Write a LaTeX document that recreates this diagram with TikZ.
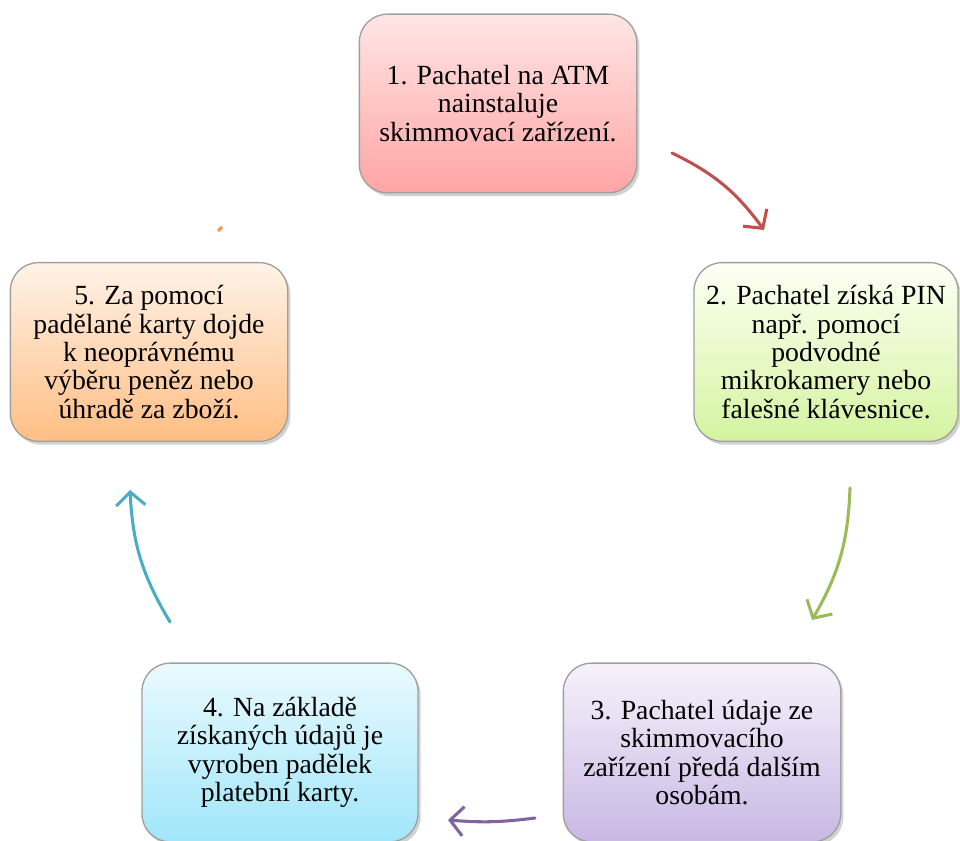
\documentclass[tikz,border=0pt]{standalone}
\usepackage{fontspec}
\setmainfont{Liberation Serif}
\usetikzlibrary{arrows.meta,shadows}

\begin{document}
\begin{tikzpicture}[x=0.75pt, y=0.75pt,
    stepbox/.style={draw=gray!75, line width=1pt, rounded corners=21pt,
        minimum width=208pt, minimum height=134pt, align=center,
        font=\fontsize{20.8}{21.3}\selectfont, inner sep=2pt,
        drop shadow={shadow xshift=2pt, shadow yshift=-2.5pt, fill=black!35, opacity=0.5}},
    cyc/.style={line width=2.3pt, line cap=round,
        -{Straight Barb[length=10pt, width=22pt, line width=2.3pt]}}]
    \useasboundingbox (0,0) rectangle (960,841);
    % boxes
    \node[stepbox, top color=red!10, bottom color=red!36!white!95!pink]
        (s1) at (498,737.5) {1. Pachatel na ATM\\nainstaluje\\skimmovací zařízení.};
    \node[stepbox, minimum width=198pt, top color=green!6!yellow!4, bottom color={rgb,255:red,212;green,244;blue,160}]
        (s2) at (826,489) {2. Pachatel získá PIN\\např. pomocí\\podvodné\\mikrokamery nebo\\falešné klávesnice.};
    \node[stepbox, top color={rgb,255:red,246;green,242;blue,251}, bottom color={rgb,255:red,201;green,184;blue,228}]
        (s3) at (702,88.5) {3. Pachatel údaje ze\\skimmovacího\\zařízení předá dalším\\osobám.};
    \node[stepbox, minimum width=207pt, top color={rgb,255:red,234;green,250;blue,255}, bottom color={rgb,255:red,160;green,230;blue,250}]
        (s4) at (280,88.5) {4. Na základě\\získaných údajů je\\vyroben padělek\\platební karty.};
    \node[stepbox, top color={rgb,255:red,255;green,243;blue,232}, bottom color={rgb,255:red,255;green,190;blue,132}]
        (s5) at (149,489) {5. Za pomocí\\padělané karty dojde\\k neoprávnému\\výběru peněz nebo\\úhradě za zboží.};
    % arrow ends
    \coordinate (a1) at (672,688);
    \coordinate (b1) at (764,611);
    \coordinate (a2) at (850,353);
    \coordinate (b2) at (812,221);
    \coordinate (a3) at (535,23);
    \coordinate (b3) at (448,21);
    \coordinate (a4) at (170,219);
    \coordinate (b4) at (130,351);
    \coordinate (a5) at (218,610);
    \coordinate (b5) at (222,614);
    % arrows
    \draw[cyc, color={rgb,255:red,192;green,80;blue,77}] (a1) to[bend left=14] (b1);
    \draw[cyc, color={rgb,255:red,155;green,187;blue,89}] (a2) to[bend left=14] (b2);
    \draw[cyc, color={rgb,255:red,128;green,100;blue,162}] (a3) to[bend left=6] (b3);
    \draw[cyc, color={rgb,255:red,75;green,172;blue,198}] (a4) to[bend left=14] (b4);
    \draw[line width=2.2pt, color={rgb,255:red,247;green,150;blue,70}] (a5) -- (b5);
\end{tikzpicture}
\end{document}
